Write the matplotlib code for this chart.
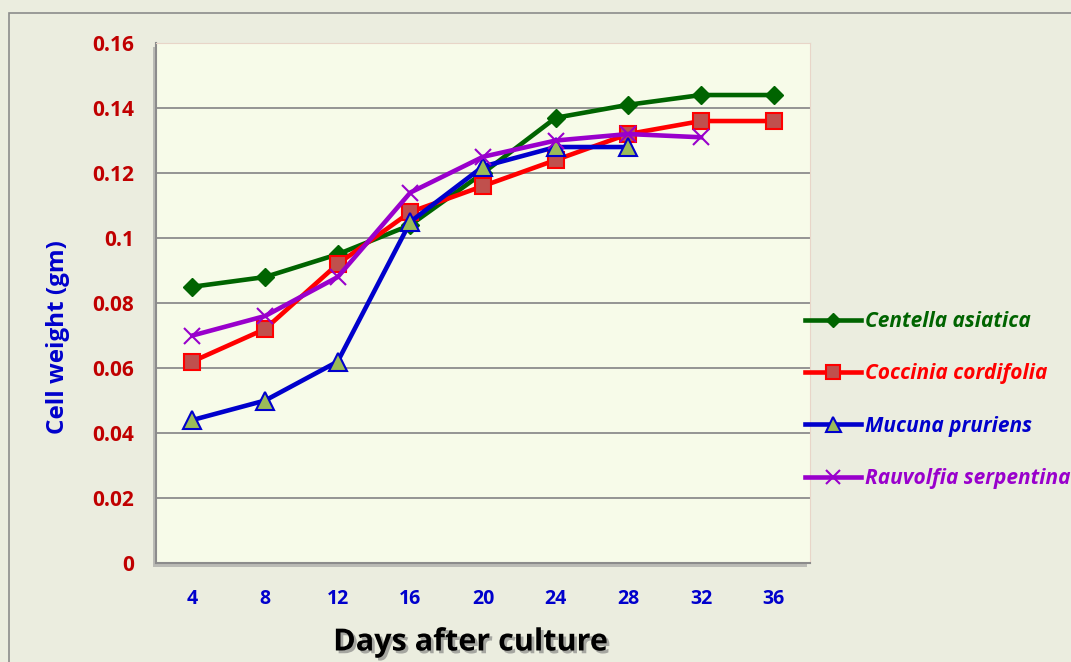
import numpy as np
import matplotlib
matplotlib.use("Agg")
import matplotlib.pyplot as plt
import matplotlib.patheffects as pe
from matplotlib.patches import Rectangle

plt.rcParams['font.family'] = ['Open Sans', 'DejaVu Sans']

# Cell weight (gm) against days after culture
days = ["4", "8", "12", "16", "20", "24", "28", "32", "36"]
centella = [0.085, 0.088, 0.095, 0.104, 0.120, 0.137, 0.141, 0.144, 0.144]
coccinia = [0.062, 0.072, 0.092, 0.108, 0.116, 0.124, 0.132, 0.136, 0.136]
mucuna = [0.044, 0.050, 0.062, 0.105, 0.122, 0.128, 0.128]
rauvolfia = [0.070, 0.076, 0.088, 0.114, 0.125, 0.130, 0.132, 0.131]
y_ticks = [0, 0.02, 0.04, 0.06, 0.08, 0.1, 0.12, 0.14, 0.16]
y_tick_labels = ["0", "0.02", "0.04", "0.06", "0.08", "0.1", "0.12", "0.14", "0.16"]

fig = plt.figure(figsize=(10.71, 6.62), dpi=100)
fig.patch.set_facecolor("#EBEDDF")

# outer chart border
fig.patches.append(Rectangle((0.0085, -0.05), 1.1, 1.03, transform=fig.transFigure,
                             fill=False, edgecolor="#8C8C8C", linewidth=1.2))

ax = fig.add_axes([0.1457, 0.1495, 0.6106, 0.7855])
ax.set_facecolor("#F7FBE9")
ax.patch.set_path_effects([pe.withSimplePatchShadow(offset=(-2, -3), shadow_rgbFace="#9A9A9A", alpha=0.6)])

x = np.arange(len(days))
lw = 3.3
ax.plot(x[:len(centella)], centella, color="#006400", lw=lw, marker="D", ms=9,
        mfc="#006400", mec="#006400", label="Centella asiatica", zorder=3)
ax.plot(x[:len(coccinia)], coccinia, color="#FF0000", lw=lw, marker="s", ms=12,
        mfc="#C0504D", mec="#FF0000", mew=1.5, label="Coccinia cordifolia", zorder=3)
ax.plot(x[:len(mucuna)], mucuna, color="#0000CC", lw=lw, marker="^", ms=13.5,
        mfc="#9BBB59", mec="#0000CC", mew=1.5, label="Mucuna pruriens", zorder=4)
ax.plot(x[:len(rauvolfia)], rauvolfia, color="#9900CC", lw=lw, marker="x", ms=12,
        mec="#9900CC", mew=1.5, label="Rauvolfia serpentina", zorder=5)

ax.set_xlim(-0.5, len(days) - 0.5)
ax.set_ylim(0, 0.16)
ax.set_xticks(x)
ax.set_xticklabels(days)
ax.set_yticks(y_ticks)
ax.set_yticklabels(y_tick_labels)
ax.tick_params(length=0)
ax.tick_params(axis="x", pad=19, labelsize=14, labelcolor="#0000CC")
ax.tick_params(axis="y", pad=16, labelsize=15, labelcolor="#C00000")
for lab in ax.get_xticklabels() + ax.get_yticklabels():
    lab.set_fontweight("bold")

ax.yaxis.grid(True, color="#8C8C8C", lw=1.3)
ax.set_axisbelow(True)
for side in ["top", "right"]:
    ax.spines[side].set_color("#E8D5C8")
for side in ["left", "bottom"]:
    ax.spines[side].set_color("#8C8C8C")
    ax.spines[side].set_linewidth(1.5)

yl = ax.set_ylabel("Cell weight (gm)", fontsize=17.5, fontweight="bold", color="#0000CC", labelpad=15.5)
yl.set_y(0.435)
xl = ax.set_xlabel("Days after culture", fontsize=22, fontweight="bold", color="#000000", labelpad=13)
xl.set_x(0.48)
xl.set_path_effects([pe.withSimplePatchShadow(offset=(2, -2), shadow_rgbFace="#777777", alpha=0.6)])

leg = fig.legend(loc="upper left", bbox_to_anchor=(0.752, 0.53), frameon=False,
                 labelspacing=1.5, handlelength=2.65, handletextpad=0.2,
                 borderpad=0, borderaxespad=0, markerscale=0.8,
                 prop={"weight": "bold", "style": "italic", "size": 15})
for text, line in zip(leg.get_texts(), leg.get_lines()):
    text.set_color(line.get_color())

fig.savefig("out.png", dpi=100, facecolor=fig.get_facecolor())
